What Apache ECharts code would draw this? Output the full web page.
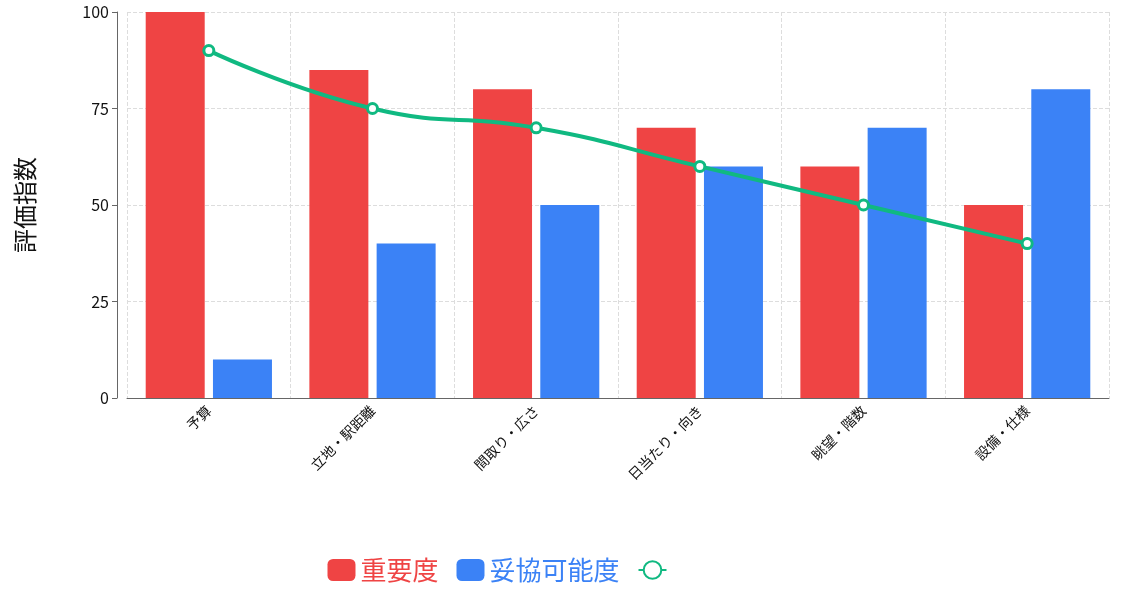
<!DOCTYPE html><html><head><meta charset="utf-8"><script src="https://cdn.jsdelivr.net/npm/echarts@6/dist/echarts.min.js"></script></head><body style="margin:0"><div id="c" style="width:1129px;height:590px"></div><script>
const categories=['予算','立地・駅距離','間取り・広さ','日当たり・向き','眺望・階数','設備・仕様'];
const importance=[100,85,80,70,60,50];
const compromise=[10,40,50,60,70,80];
const satisfaction=[90,75,70,60,50,40];
const yTicks=[0,25,50,75,100];
const half=[];categories.forEach(c=>{half.push(c+'a',c+'b');});
const ch=echarts.init(document.getElementById('c'));
const F='"Noto Sans CJK JP",sans-serif';
ch.setOption({
textStyle:{fontFamily:F},
grid:{left:127,right:20,top:12,bottom:192},
legend:{bottom:2,itemWidth:28,itemHeight:22,itemGap:18,textStyle:{fontSize:26,color:'inherit',fontFamily:F},data:['重要度','妥協可能度','満足度影響']},
xAxis:[{type:'category',data:categories,axisTick:{show:false},axisLine:{lineStyle:{color:'#666'}},
axisLabel:{rotate:45,fontSize:14,color:'#111',interval:0,margin:10},splitLine:{show:false}},
{type:'category',data:half,position:'bottom',show:true,axisLine:{show:false},axisTick:{show:false},axisLabel:{show:false},
splitLine:{show:true,interval:(i)=>i%2==0,lineStyle:{type:'dashed',color:'#ddd'}}}],
yAxis:{type:'value',min:0,max:100,interval:25,offset:10,name:'評価指数',nameLocation:'middle',nameGap:80,nameTextStyle:{fontSize:24,color:'#111'},
axisLine:{show:true,lineStyle:{color:'#666'}},axisTick:{show:true},axisLabel:{fontSize:16,color:'#111'},
splitLine:{lineStyle:{type:'dashed',color:'#ddd'}}},
series:[
{name:'重要度',type:'bar',data:importance,itemStyle:{color:'#ef4444'},barWidth:59,barGap:'14%'},
{name:'妥協可能度',type:'bar',data:compromise,itemStyle:{color:'#3b82f6'},barWidth:59},
{name:'満足度影響',type:'line',data:satisfaction,smooth:true,symbol:'circle',symbolSize:10,lineStyle:{width:4,color:'#10b981'},
itemStyle:{color:'#fff',borderColor:'#10b981',borderWidth:3},z:5}
]});
</script></body></html>
